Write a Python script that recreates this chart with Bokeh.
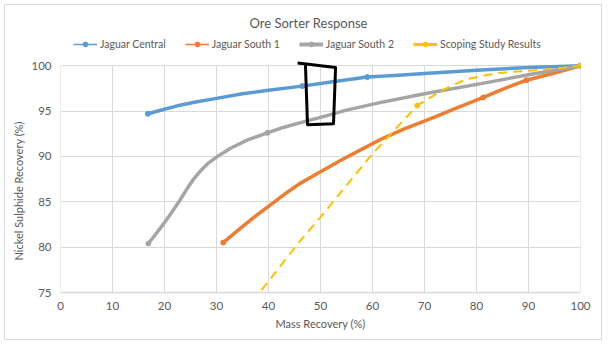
from bokeh.plotting import figure
from bokeh.models import Range1d, Legend, LegendItem, FixedTicker, Title
from bokeh.embed import file_html
from bokeh.resources import INLINE

# Curves (smoothed lines)
jc_x = [16.8, 20, 23, 26, 30, 35, 40, 46.5, 52, 59, 65, 70, 80, 90, 100]
jc_y = [94.7, 95.2, 95.65, 96.0, 96.4, 96.9, 97.3, 97.75, 98.2, 98.75, 98.95, 99.15, 99.5, 99.8, 100]
js1_x = [31.3, 34, 37, 40, 43, 46, 50, 54, 58, 62, 66, 71.8, 76, 81.3, 85, 89.6, 95, 100]
js1_y = [80.5, 81.8, 83.2, 84.5, 85.8, 87.0, 88.3, 89.6, 90.8, 92.0, 93.0, 94.3, 95.3, 96.5, 97.4, 98.4, 99.2, 100]
js2_x = [16.9, 18, 19.2, 20.5, 21.7, 23, 24.3, 25.6, 27, 28.3, 30.2, 32.7, 35.9, 39.8, 42.3, 46, 50, 55, 61.2, 70, 80.6, 90, 100]
js2_y = [80.4, 81.2, 82.1, 83.1, 84.1, 85.2, 86.4, 87.5, 88.45, 89.2, 90.0, 90.9, 91.8, 92.6, 93.1, 93.7, 94.3, 95.1, 95.9, 96.9, 98.0, 99.0, 100]
ss_x = [35, 38.3, 46.1, 50, 60, 68.6, 73.1, 78, 84, 93.6, 100]
ss_y = [72.7, 75.0, 80.7, 83.3, 90.3, 95.6, 97.2, 98.5, 99.2, 99.6, 100]

# Marker (data) points
jc_mx = [16.8, 46.5, 59, 100]
jc_my = [94.7, 97.75, 98.75, 100]
js1_mx = [31.3, 81.3, 89.6, 100]
js1_my = [80.5, 96.5, 98.4, 100]
js2_mx = [16.9, 39.8, 100]
js2_my = [80.4, 92.6, 100]
ss_mx = [68.6, 100]
ss_my = [95.6, 100]

# Hand-drawn annotation box
ann_x = [45.6, 52.9, 52.5, 47.5, 47.1]
ann_y = [100.3, 99.8, 93.6, 93.5, 100.2]

x_ticks = [0, 10, 20, 30, 40, 50, 60, 70, 80, 90, 100]
y_ticks = [75, 80, 85, 90, 95, 100]
series_names = ["Jaguar Central", "Jaguar South 1", "Jaguar South 2", "Scoping Study Results"]

FONT = "Lato"
TXT = "#595959"
GRID = "#d9d9d9"

p = figure(width=598, height=336, output_backend="svg", toolbar_location=None,
           x_range=Range1d(0, 100), y_range=Range1d(75, 103.55),
           min_border_left=55, min_border_right=23, min_border_top=28, min_border_bottom=49)
p.styles = {"margin": "4px 0 0 4px", "border": "1px solid #d9d9d9"}
p.outline_line_color = None
p.background_fill_color = "white"
p.border_fill_color = "white"

# vertical grid lines limited to the tick span of the y axis
p.xgrid.visible = False
p.segment(x0=x_ticks, y0=[y_ticks[0]] * len(x_ticks), x1=x_ticks, y1=[y_ticks[-1]] * len(x_ticks),
          line_color=GRID, line_width=1, level="underlay")
p.ygrid.grid_line_color = GRID
p.xaxis.ticker = FixedTicker(ticks=x_ticks)
p.yaxis.ticker = FixedTicker(ticks=y_ticks)
for ax in (p.xaxis[0], p.yaxis[0]):
    ax.major_tick_line_color = None
    ax.minor_tick_line_color = None
    ax.major_tick_out = 0
    ax.major_tick_in = 0
    ax.major_label_text_font = FONT
    ax.major_label_text_font_size = "11.5px"
    ax.major_label_text_color = TXT
    ax.axis_label_text_font = FONT
    ax.axis_label_text_font_size = "11px"
    ax.axis_label_text_font_style = "normal"
    ax.axis_label_text_color = TXT
p.xaxis.axis_line_color = GRID
p.xaxis.axis_line_width = 1.5
p.yaxis.axis_line_color = None
p.xaxis.axis_label = "Mass Recovery (%)"
p.xaxis.major_label_standoff = 9
p.xaxis.axis_label_standoff = 4
p.yaxis.major_label_standoff = 9

# y axis title, placed along the 75-100 span
ytitle = Title(text="Nickel Sulphide Recovery (%)", align="left", offset=32,
               text_font=FONT, text_font_size="11px", text_font_style="normal",
               text_color=TXT, standoff=8)
p.add_layout(ytitle, "left")

BLUE, ORANGE, GRAY, YELLOW = "#5B9BD5", "#ED7D31", "#A5A5A5", "#FFC000"

p.line(jc_x, jc_y, line_color=BLUE, line_width=3.5, line_join="round")
p.scatter(jc_mx, jc_my, size=5, color=BLUE)
p.line(js1_x, js1_y, line_color=ORANGE, line_width=3.5, line_join="round")
p.scatter(js1_mx, js1_my, size=5, color=ORANGE)
p.line(js2_x, js2_y, line_color=GRAY, line_width=3.5, line_join="round")
p.scatter(js2_mx, js2_my, size=5, color=GRAY)
p.line(ss_x, ss_y, line_color=YELLOW, line_width=2, line_dash="9 6")
p.scatter(ss_mx, ss_my, size=5, color=YELLOW)

p.line(ann_x, ann_y, line_color="black", line_width=3, line_join="round")

# legend swatches (Excel style: thin line + marker); hidden renderers used only by the legend
leg_styles = [(BLUE, 1.5), (ORANGE, 1.5), (GRAY, 4), (YELLOW, 3)]
leg_data = [(jc_mx, jc_my), (js1_mx, js1_my), (js2_mx, js2_my), (ss_mx, ss_my)]
items = []
for name, (col, lw), (dx, dy) in zip(series_names, leg_styles, leg_data):
    lr = p.line(dx, dy, line_color=col, line_width=lw, visible=False)
    mr = p.scatter(dx, dy, size=6, color=col, visible=False)
    items.append(LegendItem(label=name, renderers=[lr, mr]))

legend = Legend(items=items, orientation="horizontal", location=(13, 241))
legend.label_text_font = FONT
legend.label_text_font_size = "10.5px"
legend.label_text_color = TXT
legend.label_height = 14
legend.glyph_width = 24
legend.glyph_height = 12
legend.label_standoff = 3
legend.spacing = 19
legend.padding = 0
legend.margin = 0
legend.border_line_color = None
legend.background_fill_alpha = 0
legend.inactive_fill_alpha = 0
p.add_layout(legend, "center")

title = Title(text="Ore Sorter Response", align="left", offset=189, text_font=FONT,
              text_font_size="13px", text_font_style="normal", text_color=TXT,
              standoff=6)
p.add_layout(title, "above")

open("out.html", "w").write(file_html(p, INLINE))
